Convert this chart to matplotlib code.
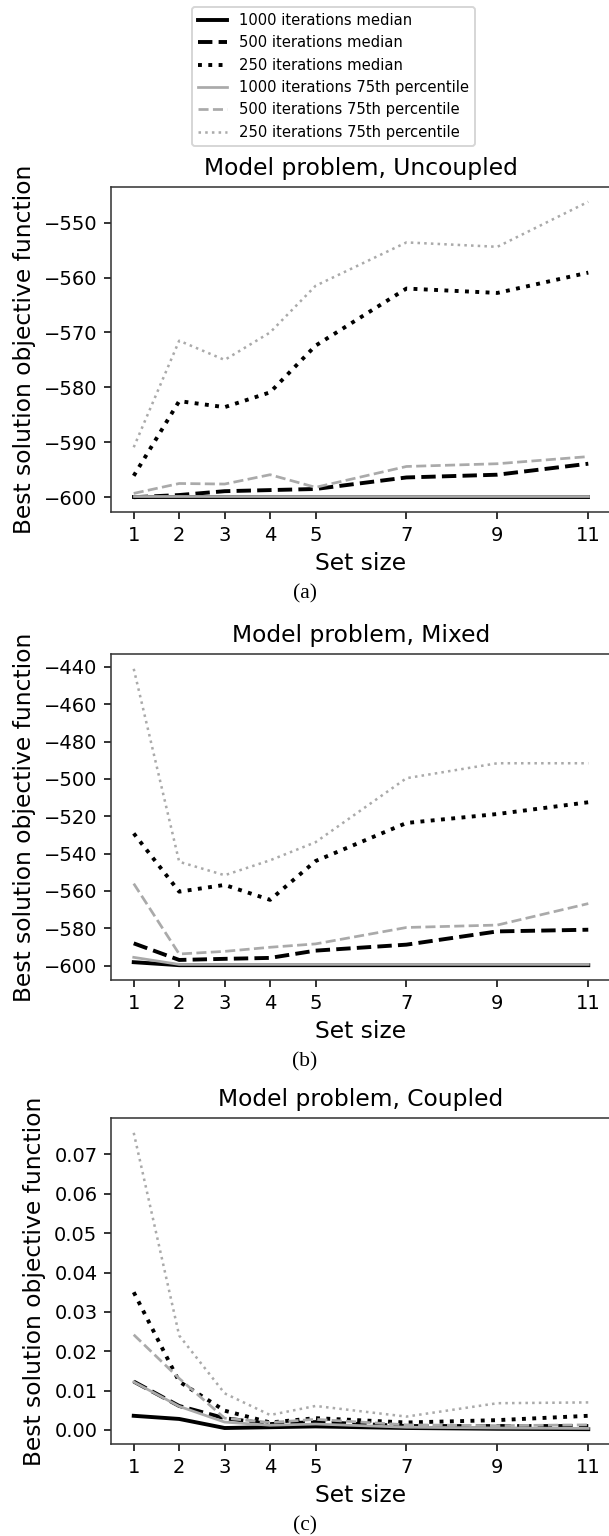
import matplotlib
matplotlib.use('Agg')
import matplotlib.pyplot as plt
from matplotlib.ticker import MultipleLocator

set_sizes = [1, 2, 3, 4, 5, 7, 9, 11]

labels = ['1000 iterations median', '500 iterations median', '250 iterations median',
          '1000 iterations 75th percentile', '500 iterations 75th percentile',
          '250 iterations 75th percentile']

# (a) uncoupled
unc_1000_med = [-600.0, -600.0, -600.0, -600.0, -600.0, -600.0, -600.0, -600.0]
unc_500_med = [-600.0, -599.6, -598.9, -598.7, -598.5, -596.4, -595.9, -593.9]
unc_250_med = [-596.1, -582.5, -583.6, -580.9, -572.4, -562.0, -562.8, -559.1]
unc_1000_p75 = [-599.7, -599.7, -599.7, -599.7, -599.7, -599.7, -599.7, -599.7]
unc_500_p75 = [-599.3, -597.5, -597.6, -595.9, -598.2, -594.4, -593.9, -592.6]
unc_250_p75 = [-590.9, -571.5, -575.0, -570.0, -561.5, -553.6, -554.4, -546.2]

# (b) mixed
mix_1000_med = [-598.2, -599.8, -599.8, -599.8, -599.8, -599.8, -599.8, -599.8]
mix_500_med = [-588.1, -597.0, -596.4, -595.9, -592.0, -588.8, -581.7, -580.8]
mix_250_med = [-529.2, -560.4, -556.8, -564.8, -544.0, -523.6, -518.8, -512.5]
mix_1000_p75 = [-595.6, -599.4, -599.4, -599.4, -599.4, -599.4, -599.4, -599.4]
mix_500_p75 = [-556.1, -593.8, -592.4, -590.2, -588.4, -579.6, -578.3, -566.8]
mix_250_p75 = [-441.0, -544.4, -551.6, -543.6, -533.9, -499.6, -491.6, -491.6]

# (c) coupled
cou_1000_med = [0.0036, 0.0028, 0.0005, 0.0007, 0.0009, 0.0005, 0.0003, 0.0002]
cou_500_med = [0.0123, 0.0061, 0.0030, 0.0015, 0.0020, 0.0010, 0.0010, 0.0010]
cou_250_med = [0.0350, 0.0123, 0.0049, 0.0019, 0.0030, 0.0019, 0.0025, 0.0036]
cou_1000_p75 = [0.0122, 0.0060, 0.0020, 0.0012, 0.0015, 0.0007, 0.0005, 0.0004]
cou_500_p75 = [0.0242, 0.0131, 0.0030, 0.0019, 0.0027, 0.0013, 0.0011, 0.0013]
cou_250_p75 = [0.0755, 0.0240, 0.0093, 0.0038, 0.0061, 0.0034, 0.0068, 0.0070]

panels = [
    ('Model problem, Uncoupled', '(a)', 10,
     [unc_1000_med, unc_500_med, unc_250_med, unc_1000_p75, unc_500_p75, unc_250_p75]),
    ('Model problem, Mixed', '(b)', 20,
     [mix_1000_med, mix_500_med, mix_250_med, mix_1000_p75, mix_500_p75, mix_250_p75]),
    ('Model problem, Coupled', '(c)', 0.01,
     [cou_1000_med, cou_500_med, cou_250_med, cou_1000_p75, cou_500_p75, cou_250_p75]),
]

styles = [('black', '-', 2.0), ('black', '--', 2.0), ('black', ':', 2.0),
          ('#aaaaaa', '-', 1.4), ('#aaaaaa', '--', 1.4), ('#aaaaaa', ':', 1.3)]

W, H = 609, 1536
fig = plt.figure(figsize=(W / 140, H / 140), dpi=140)

# axes boxes in pixels: top, bottom (right edge falls just outside the image)
boxes = [(187, 512), (654, 980), (1118, 1444)]
left, right = 111, 611

for (title, tag, step, series), (top, bottom) in zip(panels, boxes):
    ax = fig.add_axes([left / W, 1 - bottom / H, (right - left) / W, (bottom - top) / H])
    for vals, (c, ls, lw) in zip(series, styles):
        ax.plot(set_sizes, vals, color=c, linestyle=ls, linewidth=lw)
    ax.set_xticks(set_sizes)
    ax.yaxis.set_major_locator(MultipleLocator(step))
    ax.set_title(title, fontsize=12)
    ax.set_xlabel('Set size', fontsize=12)
    ax.set_ylabel('Best solution objective function', fontsize=12)
    ax.tick_params(labelsize=10)
    for sp in ax.spines.values():
        sp.set_color('#333333')
    fig.text(0.5, 1 - (bottom + 82) / H, tag, ha='center', va='center',
             fontsize=11, family='Liberation Serif')

handles = fig.axes[0].get_lines()
fig.legend(handles, labels, loc='upper left', bbox_to_anchor=(192 / W, 1 - 7 / H),
           fontsize=7.6, borderaxespad=0)

fig.savefig('out.png', dpi=140)
